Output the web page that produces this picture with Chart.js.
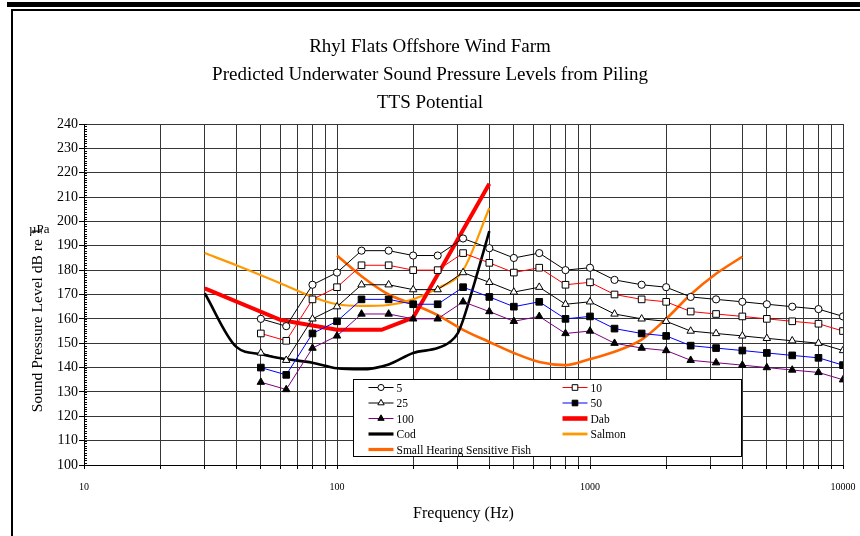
<!DOCTYPE html>
<html>
<head>
<meta charset="utf-8">
<script src="https://cdn.jsdelivr.net/npm/chart.js@4/dist/chart.umd.min.js"></script>
<style>
  html, body { margin: 0; padding: 0; background: #fff; }
  #wrap { position: relative; width: 860px; height: 536px; }
</style>
</head>
<body>
<div id="wrap"><canvas id="c" width="860" height="536"></canvas></div>
<script>
// ---- Chart text ----
const titleLines = [
  'Rhyl Flats Offshore Wind Farm',
  'Predicted Underwater Sound Pressure Levels from Piling',
  'TTS Potential'
];
const xAxisTitle = 'Frequency (Hz)';
const yAxisTitle = 'Sound Pressure Level dB re 1';
const yAxisUnit = 'µPa';

// ---- Axis ticks ----
const xGridValues = [10,20,30,40,50,60,70,80,90,100,200,300,400,500,600,700,800,900,
                     1000,2000,3000,4000,5000,6000,7000,8000,9000,10000];
const xLabelValues = [10, 100, 1000, 10000];
const yMin = 100, yMax = 240, yStep = 10;

// ---- Predicted levels at range (m), third-octave bands ----
const bandHz = [50,63,80,100,125,160,200,250,315,400,500,630,800,1000,1250,1600,2000,2500,3150,4000,5000,6300,8000,10000];
const spl5   = [160,157,174,179,188,188,186,186,193,189,185,187,180,181,176,174,173,169,168,167,166,165,164,161];
const spl10  = [154,151,168,173,182,182,180,180,187,183,179,181,174,175,170,168,167,163,162,161,160,159,158,155];
const spl25  = [146,143,160,165,174,174,172,172,179,175,171,173,166,167,162,160,159,155,154,153,152,151,150,147];
const spl50  = [140,137,154,159,168,168,166,166,173,169,165,167,160,161,156,154,153,149,148,147,146,145,144,141];
const spl100 = [134,131,148,153,162,162,160,160,167,163,159,161,154,155,150,148,147,143,142,141,140,139,138,135];

// ---- Species TTS thresholds ----
const dabHz   = [30,60,100,150,200,400];
const dabDb   = [172.5,159.5,155.5,155.5,160.5,215.5];
const codHz   = [30,40,50,60,80,100,125,160,200,250,280,300,315,350,400];
const codDb   = [170.5,148.5,145.5,143.8,142,139.7,139.3,141.3,146,148,150.6,154,159.5,175,196];
const salmonHz = [30,40,60,80,100,125,160,200,250,315,400];
const salmonDb = [187,182,174.5,169,166,165.3,165.7,168,172.5,180,205.5];
const smallFishHz = [100,125,160,200,250,315,400,500,630,800,1000,1250,1600,2000,2500,3150,4000];
const smallFishDb = [186,177.5,170,166,161.5,155.5,150.5,146,142.3,141,143.5,146.5,151.5,160,170,178.5,185.5];

const SERIF = '"Liberation Serif", "Times New Roman", serif';

function pts(xs, ys) { return xs.map((x, i) => ({ x: x, y: ys[i] })); }

function rangeSeries(label, ys, lineColor, style, filled) {
  return {
    label: label,
    data: pts(bandHz, ys),
    borderColor: lineColor,
    borderWidth: 1,
    pointStyle: style,
    pointRadius: style === 'circle' ? 3.6 : (style === 'rect' ? 4.7 : 4.3),
    pointBorderWidth: 1,
    pointBorderColor: '#000',
    pointBackgroundColor: filled ? '#000' : '#fff',
    tension: 0,
    fill: false
  };
}

function curveSeries(label, xs, ys, color, width, smooth) {
  return {
    label: label,
    data: pts(xs, ys),
    borderColor: color,
    borderWidth: width,
    pointRadius: 0,
    pointHoverRadius: 0,
    cubicInterpolationMode: smooth ? 'monotone' : 'default',
    tension: smooth ? 0.4 : 0,
    fill: false,
    borderJoinStyle: 'miter'
  };
}

const datasets = [
  rangeSeries('5',   spl5,   '#000000', 'circle',   false),
  rangeSeries('10',  spl10,  '#FF0000', 'rect',     false),
  rangeSeries('25',  spl25,  '#000000', 'triangle', false),
  rangeSeries('50',  spl50,  '#0000FF', 'rect',     true),
  rangeSeries('100', spl100, '#800080', 'triangle', true),
  curveSeries('Dab', dabHz, dabDb, '#FF0000', 4, false),
  curveSeries('Cod', codHz, codDb, '#000000', 2.6, true),
  curveSeries('Salmon', salmonHz, salmonDb, '#FF9900', 2.2, true),
  curveSeries('Small Hearing Sensitive Fish', smallFishHz, smallFishDb, '#FF6600', 2.6, true)
];

// Page frame: heavy rule across the top, thin rule below it and down the left side
const framePlugin = {
  id: 'frame',
  beforeDraw(chart) {
    const ctx = chart.ctx;
    ctx.save();
    ctx.fillStyle = '#fff';
    ctx.fillRect(0, 0, chart.width, chart.height);
    ctx.fillStyle = '#000';
    ctx.fillRect(7, 2, chart.width - 7, 5);
    ctx.fillRect(11, 9, chart.width - 11, 2);
    ctx.fillRect(11, 9, 2, chart.height - 9);
    ctx.restore();
  }
};

// Minor 1 dB tick marks on the inside of the value axis, and the value axis caption
const axisExtrasPlugin = {
  id: 'axisExtras',
  afterDraw(chart) {
    const ys = chart.scales.y;
    const ctx = chart.ctx;
    ctx.save();
    ctx.strokeStyle = '#000';
    ctx.lineWidth = 1;
    ctx.beginPath();
    for (let v = yMin; v <= yMax; v += 1) {
      const py = Math.round(ys.getPixelForValue(v)) + 0.5;
      ctx.moveTo(ys.right, py);
      ctx.lineTo(ys.right + 3, py);
    }
    ctx.stroke();

    // rotated caption, reading upwards from level with the 120 label
    ctx.fillStyle = '#000';
    ctx.font = '15.5px ' + SERIF;
    ctx.textBaseline = 'middle';
    ctx.textAlign = 'left';
    ctx.save();
    ctx.translate(38, ys.getPixelForValue(120) - 4);
    ctx.rotate(-Math.PI / 2);
    ctx.fillText(yAxisTitle, 0, 0);
    ctx.restore();

    // unit, set upright next to the end of the caption
    ctx.font = '13px ' + SERIF;
    ctx.fillText(yAxisUnit, 29, ys.getPixelForValue(200) + 8);
    ctx.restore();
  }
};

// Boxed two-column key drawn inside the plot area
const keyPlugin = {
  id: 'boxKey',
  afterDatasetsDraw(chart) {
    const ctx = chart.ctx;
    const a = chart.chartArea;
    const w = a.right - a.left, h = a.bottom - a.top;
    const bx = Math.round(a.left + w * 0.354) + 0.5;
    const by = Math.round(a.top + h * 0.749) + 0.5;
    const bw = Math.round(w * 0.511);
    const bh = Math.round(h * 0.227);
    ctx.save();
    ctx.fillStyle = '#fff';
    ctx.fillRect(bx, by, bw, bh);
    ctx.strokeStyle = '#000';
    ctx.lineWidth = 1;
    ctx.strokeRect(bx, by, bw, bh);
    ctx.font = '11.5px ' + SERIF;
    ctx.textBaseline = 'middle';
    ctx.textAlign = 'left';
    const colX = [bx + 15, bx + 209];
    const rowY0 = by + 8, rowH = 15.5;
    chart.data.datasets.forEach((ds, i) => {
      const col = i % 2, row = Math.floor(i / 2);
      const x0 = colX[col], y0 = rowY0 + row * rowH;
      ctx.strokeStyle = ds.borderColor;
      ctx.lineWidth = Math.max(ds.borderWidth, 1) + (ds.borderWidth > 1 ? 0.6 : 0);
      ctx.beginPath();
      ctx.moveTo(x0, y0);
      ctx.lineTo(x0 + 25, y0);
      ctx.stroke();
      if (ds.pointRadius > 0) {
        ctx.fillStyle = ds.pointBackgroundColor;
        ctx.strokeStyle = ds.pointBorderColor;
        ctx.lineWidth = 1;
        Chart.helpers.drawPoint(ctx, { pointStyle: ds.pointStyle, radius: ds.pointRadius * 0.85, borderWidth: 1, rotation: 0 }, x0 + 12.5, y0);
      }
      ctx.fillStyle = '#000';
      ctx.fillText(ds.label, x0 + 28, y0 + 1);
    });
    ctx.restore();
  }
};

new Chart(document.getElementById('c'), {
  type: 'line',
  data: { datasets: datasets },
  plugins: [framePlugin, axisExtrasPlugin, keyPlugin],
  options: {
    responsive: false,
    animation: false,
    devicePixelRatio: 1,
    layout: { padding: { top: 0, left: 0, right: 0, bottom: 0 } },
    plugins: {
      legend: { display: false },
      tooltip: { enabled: false },
      title: {
        display: true,
        text: titleLines,
        color: '#000',
        font: { family: SERIF, size: 19, weight: 'normal', lineHeight: 28 / 19 },
        padding: { top: 33, bottom: 7 }
      }
    },
    scales: {
      x: {
        type: 'logarithmic',
        min: 10,
        max: 10000,
        afterBuildTicks(s) { s.ticks = xGridValues.map(v => ({ value: v })); },
        afterFit(s) { s.height = 71; s.paddingLeft = 0; s.paddingRight = 17; },
        ticks: {
          autoSkip: false,
          maxRotation: 0,
          minRotation: 0,
          color: '#000',
          padding: 12,
          font: { family: SERIF, size: 10 },
          callback: (v) => xLabelValues.includes(v) ? String(v) : ''
        },
        grid: { color: '#363636', lineWidth: 1, tickLength: 4, tickColor: '#000' },
        border: { display: true, color: '#000', width: 1 },
        title: {
          display: true,
          text: xAxisTitle,
          color: '#000',
          font: { family: SERIF, size: 16 },
          padding: { top: 0, bottom: 13 }
        }
      },
      y: {
        type: 'linear',
        min: yMin,
        max: yMax,
        afterFit(s) { s.width = 84; s.paddingTop = 0; s.paddingBottom = 0; },
        ticks: {
          stepSize: yStep,
          color: '#000',
          padding: 1,
          font: { family: SERIF, size: 14 }
        },
        grid: { color: '#363636', lineWidth: 1, tickLength: 5, tickColor: '#000' },
        border: { display: true, color: '#000', width: 1 },
        title: { display: false }
      }
    }
  }
});
</script>
</body>
</html>
